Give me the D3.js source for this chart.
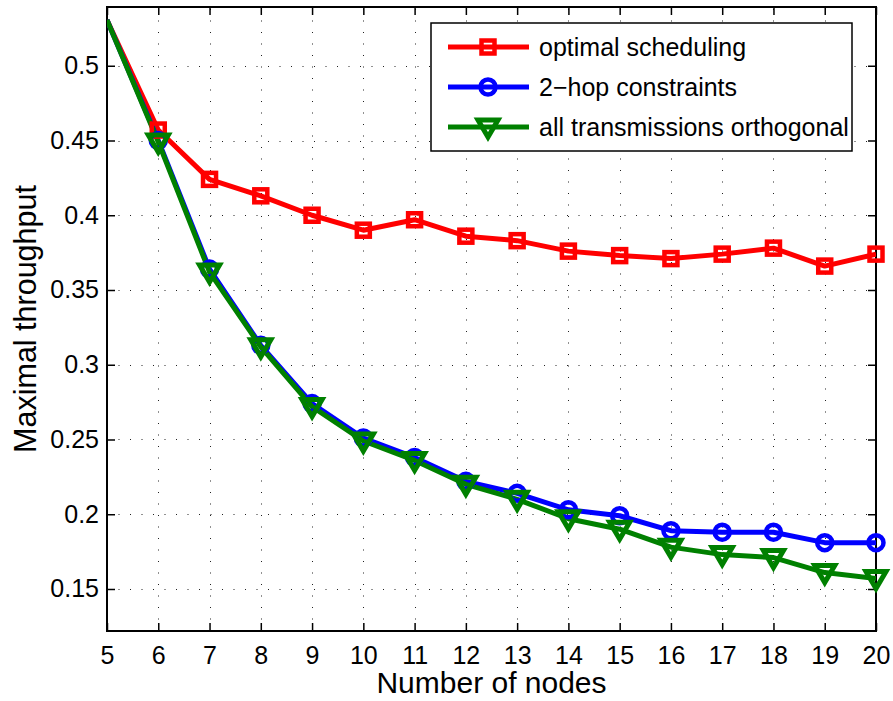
<!DOCTYPE html>
<html>
<head>
<meta charset="utf-8">
<script src="https://cdn.jsdelivr.net/npm/d3@7/dist/d3.min.js"></script>
<style>
  body { margin: 0; background: #fff; }
  svg { display: block; font-family: "Liberation Sans", Arial, Helvetica, sans-serif; }
</style>
</head>
<body>
<figure id="chart" style="margin:0"></figure>
<script>
const nodes = [5, 6, 7, 8, 9, 10, 11, 12, 13, 14, 15, 16, 17, 18, 19, 20];
const optimalScheduling = [0.5306, 0.457, 0.424, 0.413, 0.400, 0.390, 0.397, 0.386, 0.383, 0.376, 0.373, 0.371, 0.374, 0.378, 0.366, 0.374];
const twoHopConstraints = [0.5306, 0.450, 0.364, 0.313, 0.274, 0.251, 0.238, 0.222, 0.214, 0.203, 0.199, 0.189, 0.188, 0.188, 0.181, 0.181];
const allOrthogonal = [0.5306, 0.449, 0.362, 0.312, 0.272, 0.249, 0.236, 0.220, 0.210, 0.197, 0.190, 0.178, 0.173, 0.171, 0.161, 0.157];
const xTicks = [5, 6, 7, 8, 9, 10, 11, 12, 13, 14, 15, 16, 17, 18, 19, 20];
const yTicks = [0.15, 0.2, 0.25, 0.3, 0.35, 0.4, 0.45, 0.5];

const series = [
  {name: "optimal scheduling", values: optimalScheduling, color: "#ff0000", marker: "square"},
  {name: "2\u2212hop constraints", values: twoHopConstraints, color: "#0000ff", marker: "circle"},
  {name: "all transmissions orthogonal", values: allOrthogonal, color: "#008000", marker: "triangle"}
];

const W = 893, H = 701;
const mLeft = 107, mRight = 876, mTop = 7, mBottom = 631;

const svg = d3.select("#chart").append("svg")
  .attr("width", W)
  .attr("height", H);

const x = d3.scaleLinear().domain([5, 20]).range([mLeft, mRight]);
const y = d3.scaleLinear().domain([0.1219, 0.5393]).range([mBottom, mTop]);

// dotted grid
const grid = svg.append("g")
  .attr("stroke", "#222")
  .attr("stroke-width", 1)
  .attr("stroke-dasharray", "1,10.5");
grid.selectAll("line.vx")
  .data(xTicks.filter(t => t > 5 && t < 20))
  .enter().append("line")
  .attr("x1", d => Math.round(x(d)) + 0.5).attr("x2", d => Math.round(x(d)) + 0.5)
  .attr("y1", mBottom).attr("y2", mTop);
grid.selectAll("line.hy")
  .data(yTicks)
  .enter().append("line")
  .attr("y1", d => Math.round(y(d)) + 0.5).attr("y2", d => Math.round(y(d)) + 0.5)
  .attr("x1", mLeft).attr("x2", mRight);

// axes: ticks inward, mirrored on top and right
const tickLen = 8;
svg.append("g")
  .attr("transform", "translate(0," + mBottom + ")")
  .call(d3.axisBottom(x).tickValues(xTicks).tickSize(-tickLen).tickPadding(15).tickFormat(d3.format("d")))
  .call(g => g.select(".domain").remove());
svg.append("g")
  .attr("transform", "translate(0," + mTop + ")")
  .call(d3.axisTop(x).tickValues(xTicks).tickSize(-tickLen).tickFormat(""))
  .call(g => g.select(".domain").remove());
svg.append("g")
  .attr("transform", "translate(" + mLeft + ",0)")
  .call(d3.axisLeft(y).tickValues(yTicks).tickSize(-tickLen).tickPadding(8).tickFormat(d => String(d)))
  .call(g => g.select(".domain").remove());
svg.append("g")
  .attr("transform", "translate(" + mRight + ",0)")
  .call(d3.axisRight(y).tickValues(yTicks).tickSize(-tickLen).tickFormat(""))
  .call(g => g.select(".domain").remove());

svg.selectAll(".tick line").attr("stroke", "#000").attr("stroke-width", 1.5);
svg.selectAll(".tick text")
  .attr("fill", "#000")
  .style("font-size", "25px")
  .style("font-family", "\"Liberation Sans\", Arial, sans-serif");

// box
svg.append("rect")
  .attr("x", mLeft).attr("y", mTop)
  .attr("width", mRight - mLeft).attr("height", mBottom - mTop)
  .attr("fill", "none")
  .attr("stroke", "#000")
  .attr("stroke-width", 2);

svg.append("clipPath").attr("id", "plotclip")
  .append("rect")
  .attr("x", mLeft).attr("y", mTop)
  .attr("width", mRight - mLeft).attr("height", mBottom - mTop);

function drawMarker(g, type, color) {
  if (type === "square") {
    g.append("rect").attr("x", -6.5).attr("y", -6.5).attr("width", 13).attr("height", 13)
      .attr("fill", "none").attr("stroke", color).attr("stroke-width", 4.5);
  } else if (type === "circle") {
    g.append("circle").attr("r", 7.5)
      .attr("fill", "none").attr("stroke", color).attr("stroke-width", 4.5);
  } else {
    g.append("path").attr("d", "M-10,-7L10,-7L0,10Z")
      .attr("fill", "none").attr("stroke", color).attr("stroke-width", 5)
      .attr("stroke-linejoin", "miter");
  }
}

const line = d3.line().x(d => x(d.x)).y(d => y(d.y));
const plot = svg.append("g").attr("clip-path", "url(#plotclip)");

series.forEach(s => {
  const pts = nodes.map((n, i) => ({x: n, y: s.values[i]}));
  plot.append("path")
    .datum(pts)
    .attr("d", line)
    .attr("fill", "none")
    .attr("stroke", s.color)
    .attr("stroke-width", 5)
    .attr("stroke-linejoin", "round");
  // markers only for points inside the axes
  pts.filter(p => p.x > x.domain()[0]).forEach(p => {
    const g = svg.append("g").attr("transform", "translate(" + x(p.x) + "," + y(p.y) + ")");
    drawMarker(g, s.marker, s.color);
  });
});

// legend
const legend = svg.append("g");
legend.append("rect")
  .attr("x", 431).attr("y", 23)
  .attr("width", 421).attr("height", 128)
  .attr("fill", "#fff")
  .attr("stroke", "#000")
  .attr("stroke-width", 1.5);
series.forEach((s, i) => {
  const cy = 47 + i * 40;
  legend.append("line")
    .attr("x1", 448).attr("x2", 529)
    .attr("y1", cy).attr("y2", cy)
    .attr("stroke", s.color).attr("stroke-width", 5);
  const g = legend.append("g").attr("transform", "translate(488," + cy + ")");
  drawMarker(g, s.marker, s.color);
  legend.append("text")
    .attr("x", 539).attr("y", cy)
    .attr("dy", "0.35em")
    .style("font-size", "25px")
    .text(s.name);
});

// axis titles
svg.append("text")
  .attr("x", (mLeft + mRight) / 2)
  .attr("y", 693)
  .attr("text-anchor", "middle")
  .style("font-size", "30px")
  .text("Number of nodes");
svg.append("text")
  .attr("transform", "translate(36," + (mTop + mBottom) / 2 + ") rotate(-90)")
  .attr("text-anchor", "middle")
  .style("font-size", "30.5px")
  .text("Maximal throughput");
</script>
</body>
</html>
